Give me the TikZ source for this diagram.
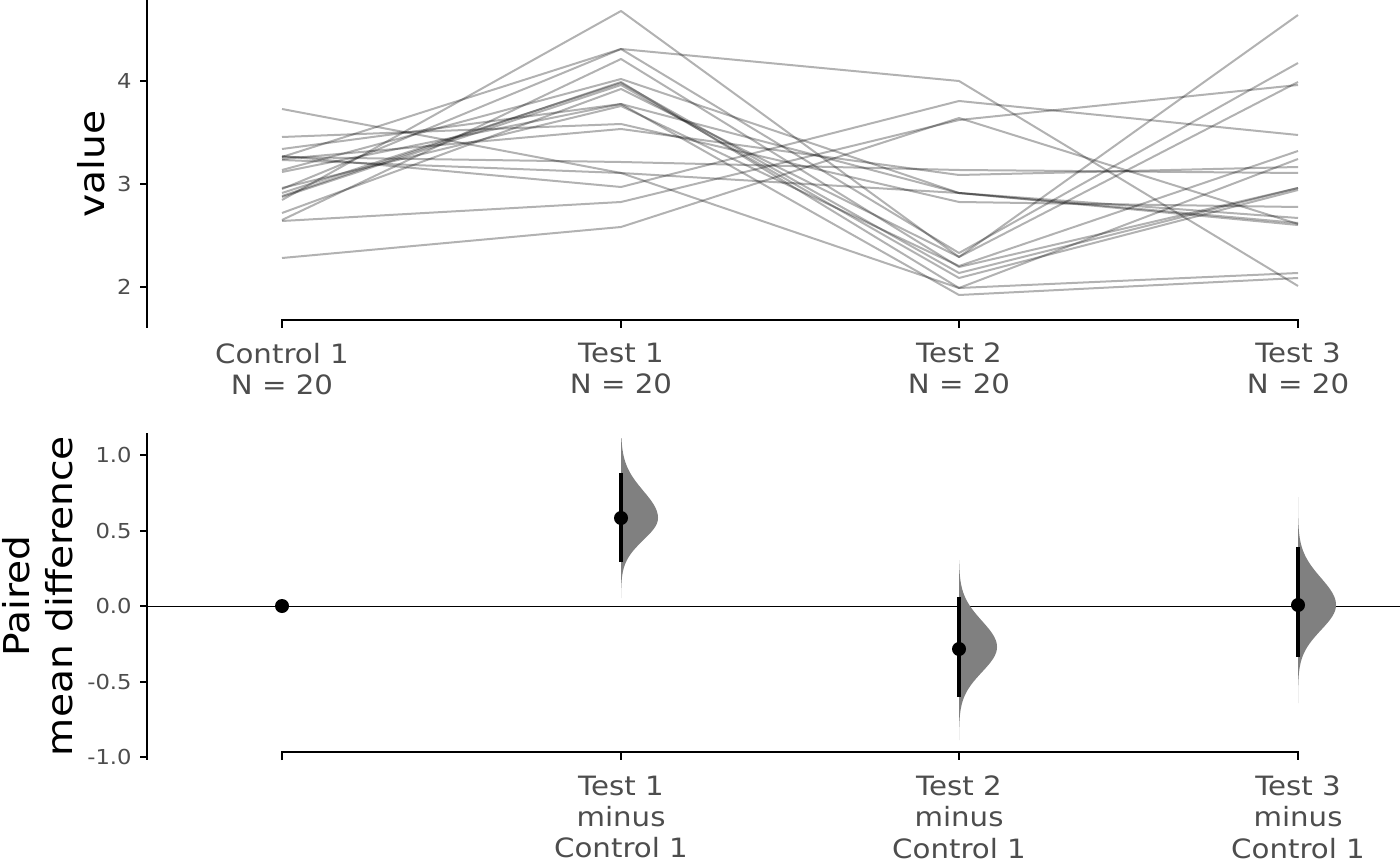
\documentclass[tikz,border=0pt]{standalone}
\usepackage{fontspec}
\setmainfont{DejaVu Sans}[FakeStretch=1.1]
\usepackage{tikz}
\definecolor{ticktext}{HTML}{4D4D4D}
\tikzstyle{pairline} = [black,opacity=0.3,line width=1pt,line join=round]
\tikzstyle{axisline} = [black,line width=1pt]
\tikzstyle{ticklab} = [ticktext,inner sep=0pt,anchor=east,font=\fontsize{10.3}{12}\selectfont]
\tikzstyle{grouplab} = [ticktext,inner sep=0pt,anchor=north,align=center,font=\fontsize{13.3}{15.6}\selectfont]
\tikzstyle{axistitle} = [black,inner sep=0pt,anchor=south,rotate=90,align=center,font=\fontsize{17.8}{21.5}\selectfont]
\tikzstyle{violin} = [fill=gray]
\tikzstyle{cibar} = [black,line width=2pt]

\begin{document}
\begin{tikzpicture}[x=0.5pt,y=-0.5pt]
  \useasboundingbox (0,0) rectangle (1400,865);
  % paired lines
  \foreach \c/\ta/\tb/\tc in {200/11/257/15, 109/173/288/159, 258/227/118/224,
    157/49/81/286, 189/49/253/63, 220/59/267/188, 137/124/202/207,
    149/104/193/218, 157/162/170/173, 170/79/193/225, 193/83/273/188,
    197/85/278/190, 159/129/175/167, 213/89/257/82, 221/202/120/85,
    188/106/266/151, 156/187/101/135, 172/104/295/278, 196/82/288/273,
    160/173/193/223}
    \draw[pairline] (282,\c) -- (621,\ta) -- (959,\tb) -- (1298,\tc);
  % top axes
  \draw[axisline] (147,0) -- (147,328);
  \foreach \v/\py in {4/81, 3/184, 2/287} {
    \draw[axisline] (140,\py) -- (147,\py);
    \node[ticklab] (ytop\v) at (132,\py) {\v};
  }
  \draw[axisline] (282,328) -- (282,320) -- (1298,320) -- (1298,328);
  \foreach \px in {621, 959} \draw[axisline] (\px,320) -- (\px,328);
  \node[axistitle] (valtitle) at (105,164) {value};
  \node[grouplab] (gc) at (282,342.5) {Control 1\\N = 20};
  \node[grouplab] (ga) at (621,342.5) {Test 1\\N = 20};
  \node[grouplab] (gb) at (959,342.5) {Test 2\\N = 20};
  \node[grouplab] (gd) at (1298,342.5) {Test 3\\N = 20};
  % bottom axes
  \draw[black,line width=0.5pt] (147,606) -- (1400,606);
  \draw[axisline] (147,433) -- (147,760);
  \foreach \v/\py in {1.0/455, 0.5/530.5, 0.0/606, -0.5/681.5, -1.0/757} {
    \draw[axisline] (140,\py) -- (147,\py);
    \node[ticklab] at (132,\py) {\v};
  }
  \draw[axisline] (282,760) -- (282,752) -- (1298,752) -- (1298,760);
  \foreach \px in {621, 959} \draw[axisline] (\px,752) -- (\px,760);
  \node[axistitle] (difftitle) at (73,596) {Paired\\mean difference};
  \node[grouplab] (da) at (621,775.5) {Test 1\\minus\\Control 1};
  \node[grouplab] (db) at (959,775.5) {Test 2\\minus\\Control 1};
  \node[grouplab] (dd) at (1298,775.5) {Test 3\\minus\\Control 1};
  % half violins
  \fill[violin] (621,438) -- plot[domain=-80:0,samples=50] ({621+37*exp(-(\x*\x)/(2*27*27))},{518+\x})
    -- plot[domain=0:80,samples=50] ({621+37*exp(-(\x*\x)/(2*22*22))},{518+\x}) -- cycle;
  \fill[violin] (959,560) -- plot[domain=-87:0,samples=50] ({959+38*exp(-(\x*\x)/(2*26*26))},{647+\x})
    -- plot[domain=0:93,samples=50] ({959+38*exp(-(\x*\x)/(2*25*25))},{647+\x}) -- cycle;
  \fill[violin] (1298,497) -- plot[domain=-108:0,samples=50] ({1298+38*exp(-(\x*\x)/(2*27*27))},{605+\x})
    -- plot[domain=0:98,samples=50] ({1298+38*exp(-(\x*\x)/(2*25*25))},{605+\x}) -- cycle;
  % intervals and means
  \draw[cibar] (621,473) -- (621,562);
  \draw[cibar] (959,597) -- (959,697);
  \draw[cibar] (1298,547) -- (1298,657);
  \fill (282,606) circle[radius=3.5pt];
  \fill (621,518) circle[radius=3.5pt];
  \fill (959,649) circle[radius=3.5pt];
  \fill (1298,605) circle[radius=3.5pt];
\end{tikzpicture}
\end{document}
